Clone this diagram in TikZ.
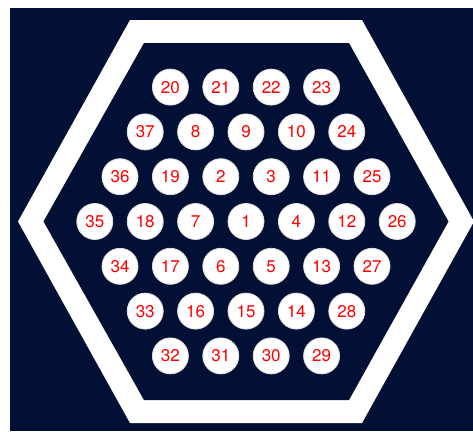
\documentclass[tikz,border=0pt]{standalone}
\usepackage{fontspec}
\setmainfont{TeX Gyre Heros}
\definecolor{navy}{RGB}{1,16,52}

\begin{document}
\begin{tikzpicture}[
    x=1pt,y=-1pt,
    sea/.style={fill=navy},
    band/.style={fill=white},
    rod/.style={
        circle,
        fill=white,
        draw=gray!25,
        line width=0.8pt,
        minimum size=36pt,
        inner sep=0pt,
        text=red,
        font=\fontsize{17}{19}\selectfont
    }
]
\useasboundingbox (0,0) rectangle (473,431);

% ------------------------------------------------
% Geometry: centre of the bundle and rod pitch
% ------------------------------------------------
\def\xc{246}
\def\yc{221.5}
\def\dx{50.4}
\def\dy{44.8}

% outer edge of the hexagonal wall
\coordinate (O1) at (130,20);
\coordinate (O2) at (362,20);
\coordinate (O3) at (474,\yc);
\coordinate (O4) at (362,423);
\coordinate (O5) at (130,423);
\coordinate (O6) at (18,\yc);

% inner edge of the hexagonal wall
\coordinate (I1) at (144,43);
\coordinate (I2) at (349,43);
\coordinate (I3) at (448.5,\yc);
\coordinate (I4) at (349,400);
\coordinate (I5) at (144,400);
\coordinate (I6) at (43.5,\yc);

% ------------------------------------------------
% Background and wall
% ------------------------------------------------
\fill[sea] (10,8) rectangle (473,431);
\fill[band] (O1) -- (O2) -- (O3) -- (O4) -- (O5) -- (O6) -- cycle;
\fill[sea] (I1) -- (I2) -- (I3) -- (I4) -- (I5) -- (I6) -- cycle;

% ------------------------------------------------
% Rods: half-pitch column / row / number
% ------------------------------------------------
\foreach \h/\r/\n in {
    -3/-3/20, -1/-3/21, 1/-3/22, 3/-3/23,
    -4/-2/37, -2/-2/8, 0/-2/9, 2/-2/10, 4/-2/24,
    -5/-1/36, -3/-1/19, -1/-1/2, 1/-1/3, 3/-1/11, 5/-1/25,
    -6/0/35, -4/0/18, -2/0/7, 0/0/1, 2/0/4, 4/0/12, 6/0/26,
    -5/1/34, -3/1/17, -1/1/6, 1/1/5, 3/1/13, 5/1/27,
    -4/2/33, -2/2/16, 0/2/15, 2/2/14, 4/2/28,
    -3/3/32, -1/3/31, 1/3/30, 3/3/29}
    \node[rod] (rod\n) at (\xc+\h*\dx/2,\yc+\r*\dy) {\n};

\end{tikzpicture}
\end{document}
